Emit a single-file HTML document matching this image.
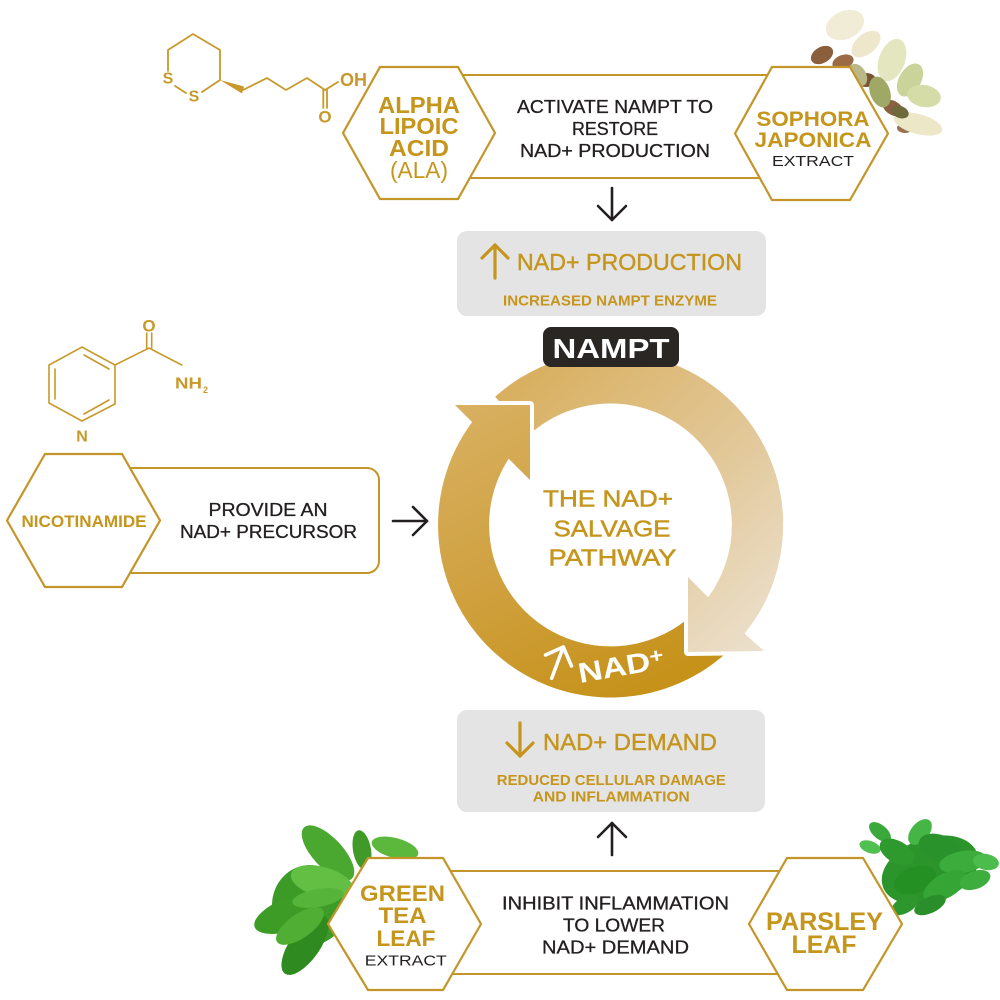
<!DOCTYPE html>
<html><head><meta charset="utf-8"><style>
html,body{margin:0;padding:0;background:#fff;}
svg{display:block;}
text{font-family:"Liberation Sans",Arial,sans-serif;}
</style></head><body>
<svg width="1000" height="1000" viewBox="0 0 1000 1000" xmlns="http://www.w3.org/2000/svg">
<defs>
<linearGradient id="g1" gradientUnits="userSpaceOnUse" x1="470" y1="400" x2="620" y2="700">
<stop offset="0" stop-color="#d8b061"/><stop offset="0.5" stop-color="#d0a140"/><stop offset="1" stop-color="#c6921a"/>
</linearGradient>
<linearGradient id="g2" gradientUnits="userSpaceOnUse" x1="500" y1="380" x2="760" y2="660">
<stop offset="0" stop-color="#d8ae5c"/><stop offset="0.55" stop-color="#e2c899"/><stop offset="1" stop-color="#ece1cf"/>
</linearGradient>
</defs>

<!-- Sophora flower -->
<g>
<ellipse cx="822" cy="55" rx="12" ry="8" transform="rotate(-30 822 55)" fill="#8b5e3c"/>
<ellipse cx="843" cy="62" rx="11" ry="7" transform="rotate(-20 843 62)" fill="#9a6b45"/>
<ellipse cx="866" cy="80" rx="10" ry="7" fill="#7a5535"/>
<ellipse cx="893" cy="108" rx="11" ry="7" transform="rotate(30 893 108)" fill="#8a6040"/>
<ellipse cx="905" cy="128" rx="8" ry="5" fill="#9a7050"/>
<ellipse cx="845" cy="25" rx="20" ry="14" transform="rotate(-25 845 25)" fill="#f1ecd6"/>
<ellipse cx="866" cy="44" rx="17" ry="10" transform="rotate(-40 866 44)" fill="#eee7cb"/>
<ellipse cx="892" cy="60" rx="13" ry="22" transform="rotate(20 892 60)" fill="#e3e6bf"/>
<ellipse cx="910" cy="80" rx="11" ry="18" transform="rotate(30 910 80)" fill="#c9d39a"/>
<ellipse cx="924" cy="96" rx="17" ry="11" transform="rotate(10 924 96)" fill="#d6dca8"/>
<ellipse cx="918" cy="124" rx="25" ry="10" transform="rotate(15 918 124)" fill="#ebe7c7"/>
<ellipse cx="880" cy="92" rx="10" ry="16" transform="rotate(-20 880 92)" fill="#9fa865"/>
<ellipse cx="858" cy="75" rx="8" ry="12" transform="rotate(-30 858 75)" fill="#b9b886"/>
<ellipse cx="900" cy="112" rx="9" ry="6" transform="rotate(20 900 112)" fill="#6f6a3c"/>
</g>

<!-- Green tea leaves -->
<g>
<ellipse cx="310" cy="905" rx="38" ry="40" fill="#3c9a26"/>
<ellipse cx="328" cy="853" rx="35" ry="15" transform="rotate(47 328 853)" fill="#4aa830"/>
<ellipse cx="362" cy="850" rx="20" ry="9" transform="rotate(80 362 850)" fill="#3f9a28"/>
<ellipse cx="395" cy="848" rx="24" ry="10" transform="rotate(15 395 848)" fill="#5bb83c"/>
<ellipse cx="296" cy="912" rx="44" ry="17" transform="rotate(-20 296 912)" fill="#3c9c26"/>
<ellipse cx="322" cy="882" rx="32" ry="15" transform="rotate(15 322 882)" fill="#62bf44"/>
<ellipse cx="305" cy="945" rx="35" ry="15" transform="rotate(-55 305 945)" fill="#2f8a1f"/>
<ellipse cx="300" cy="926" rx="28" ry="12" transform="rotate(-35 300 926)" fill="#4fae33"/>
<ellipse cx="318" cy="898" rx="26" ry="9" transform="rotate(-10 318 898)" fill="#56b43a"/>
</g>

<!-- Parsley -->
<g>
<ellipse cx="930" cy="870" rx="50" ry="32" transform="rotate(-20 930 870)" fill="#2b942b"/>
<ellipse cx="880" cy="832" rx="13" ry="7" transform="rotate(40 880 832)" fill="#3aa83a"/>
<ellipse cx="870" cy="847" rx="11" ry="6" transform="rotate(20 870 847)" fill="#50c050"/>
<ellipse cx="897" cy="852" rx="19" ry="11" transform="rotate(30 897 852)" fill="#2e9a2e"/>
<ellipse cx="920" cy="832" rx="15" ry="9" transform="rotate(-50 920 832)" fill="#45b545"/>
<ellipse cx="940" cy="848" rx="22" ry="13" transform="rotate(20 940 848)" fill="#2a922a"/>
<ellipse cx="963" cy="862" rx="24" ry="11" transform="rotate(-10 963 862)" fill="#3cac3c"/>
<ellipse cx="986" cy="862" rx="13" ry="8" transform="rotate(10 986 862)" fill="#4cbc4c"/>
<ellipse cx="915" cy="880" rx="22" ry="13" transform="rotate(-20 915 880)" fill="#249024"/>
<ellipse cx="945" cy="886" rx="24" ry="12" transform="rotate(-30 945 886)" fill="#35a535"/>
<ellipse cx="905" cy="905" rx="15" ry="8" transform="rotate(-30 905 905)" fill="#2d962d"/>
<ellipse cx="975" cy="880" rx="16" ry="9" transform="rotate(-20 975 880)" fill="#3dad3d"/>
<ellipse cx="930" cy="905" rx="17" ry="8" transform="rotate(-25 930 905)" fill="#2a8f2a"/>
</g>

<!-- Boxes -->
<g fill="#fff" stroke="#c4962a" stroke-width="2">
<rect x="440" y="75" width="350" height="103" rx="12"/>
<rect x="100" y="468" width="279" height="105" rx="12"/>
<rect x="440" y="871" width="350" height="103" rx="12"/>
</g>

<!-- Hexagons -->
<g fill="#fff" stroke="#c4962a" stroke-width="2.2">
<polygon points="343,133 380,67 458,67 495,133 458,199 380,199"/>
<polygon points="735,133.5 772,67 850,67 888,133.5 850,200 772,200"/>
<polygon points="7,520.5 45,454 122,454 160,520.5 122,587 45,587"/>
<polygon points="328,924 368,858 443,858 481,924 443,990 368,990"/>
<polygon points="749,924 787,858 863,858 902,924 863,990 787,990"/>
</g>

<!-- Lipoic acid molecule -->
<g stroke="#c8992a" stroke-width="1.8" fill="none" stroke-linecap="round">
<polyline points="168,71 168,50 193,34 220,50 220,80 202,92"/>
<line x1="175" y1="86" x2="186" y2="93"/>
<polyline points="243,90 267,78 286,90 307,78 325,90 338,82"/>
<line x1="323.3" y1="90" x2="323.3" y2="108"/>
<line x1="327" y1="90" x2="327" y2="108"/>
</g>
<polygon points="220,80 244,86.5 242,93.5" fill="#c8992a"/>
<g fill="#c8992a" font-size="16" font-weight="bold">
<text x="168" y="83.5" text-anchor="middle">S</text>
<text x="194" y="101.7" text-anchor="middle">S</text>
<text x="325" y="122.7" text-anchor="middle" font-size="17">O</text>
<text x="340" y="86" font-size="18" textLength="27" lengthAdjust="spacingAndGlyphs">OH</text>
</g>

<!-- Nicotinamide molecule -->
<g stroke="#c8992a" stroke-width="1.6" fill="none" stroke-linecap="round">
<polyline points="82,421 49,403 49,365 82,347 115,365 115,404 82,421"/>
<line x1="55" y1="369" x2="55" y2="399"/>
<line x1="84" y1="355" x2="109" y2="369"/>
<line x1="84" y1="414" x2="109" y2="400"/>
<polyline points="115,365 149,348 181.7,365"/>
<line x1="146.7" y1="348" x2="146.7" y2="333"/>
<line x1="151.7" y1="348" x2="151.7" y2="333"/>
</g>
<g fill="#c8992a" font-weight="bold">
<text x="149" y="331.7" text-anchor="middle" font-size="17">O</text>
<text x="175" y="388.3" font-size="16" textLength="27" lengthAdjust="spacingAndGlyphs">NH</text>
<text x="203" y="393" font-size="9">2</text>
<text x="82" y="441.7" text-anchor="middle" font-size="16">N</text>
</g>

<!-- Ring -->
<path d="M495.1,396.8 A172.5,172.5 0 0 1 744.6,633.6 L708.2,597.2 A121.5,121.5 0 0 0 529.2,434.7 Z" fill="url(#g2)"/>
<path d="M732.5,647 A172.5,172.5 0 0 1 472.1,422.1 L455,405 L530,405 L530,480 L508.7,458.7 A121.5,121.5 0 0 0 696.4,610.9 Z" fill="url(#g1)" stroke="#fff" stroke-width="8" stroke-linejoin="round" paint-order="stroke"/>
<path d="M783,525 A172.5,172.5 0 0 1 744.6,633.6 L764,651 L688,652 L688,577 L708.2,597.2 A121.5,121.5 0 0 0 732,525 Z" fill="url(#g2)" stroke="#fff" stroke-width="8" stroke-linejoin="round" paint-order="stroke"/>
<path d="M759.9,438.75 A172.5,172.5 0 0 1 759.9,611.25 L715.7,585.75 A121.5,121.5 0 0 0 715.7,464.25 Z" fill="url(#g2)"/>

<!-- NAD+ on ring -->
<g stroke="#fff" stroke-width="3.5" fill="none" stroke-linecap="round" stroke-linejoin="round">
<line x1="551.7" y1="678.3" x2="563.3" y2="647"/>
<polyline points="545.5,655 563.3,647 571.5,666"/>
</g>
<g transform="translate(580,683) rotate(-10)">
<text x="0" y="0" fill="#fff" font-size="28" font-weight="bold" transform="scale(1.2,1)">NAD<tspan font-size="20" dy="-7">+</tspan></text>
</g>

<!-- NAMPT label -->
<rect x="543" y="327" width="136" height="40" rx="8" fill="#2a2624"/>
<text x="611" y="358" text-anchor="middle" fill="#fff" font-size="28" font-weight="bold" textLength="117" lengthAdjust="spacingAndGlyphs">NAMPT</text>

<!-- Center title -->
<g fill="#c5951c" stroke="#c5951c" stroke-width="0.5" font-size="23.5" text-anchor="middle">
<text x="608" y="506.5" textLength="130" lengthAdjust="spacingAndGlyphs">THE NAD+</text>
<text x="612" y="536.5" textLength="117" lengthAdjust="spacingAndGlyphs">SALVAGE</text>
<text x="612.5" y="565.5" textLength="128" lengthAdjust="spacingAndGlyphs">PATHWAY</text>
</g>

<!-- Gray boxes -->
<rect x="457" y="231" width="309" height="85" rx="10" fill="#e4e4e4"/>
<g stroke="#c5951c" stroke-width="3.2" fill="none" stroke-linecap="round" stroke-linejoin="round">
<line x1="495" y1="245" x2="495" y2="278"/>
<polyline points="482,258 495,245 508,258"/>
</g>
<text x="629.5" y="270" text-anchor="middle" fill="#c5951c" stroke="#c5951c" stroke-width="0.4" font-size="23" textLength="225" lengthAdjust="spacingAndGlyphs">NAD+ PRODUCTION</text>
<text x="610" y="305.5" text-anchor="middle" fill="#c5951c" font-size="15" font-weight="bold" textLength="214" lengthAdjust="spacingAndGlyphs">INCREASED NAMPT ENZYME</text>

<rect x="457" y="710" width="308" height="102" rx="10" fill="#e4e4e4"/>
<g stroke="#c5951c" stroke-width="3.2" fill="none" stroke-linecap="round" stroke-linejoin="round">
<line x1="520" y1="723" x2="520" y2="756"/>
<polyline points="507,743 520,756 533,743"/>
</g>
<text x="630" y="750" text-anchor="middle" fill="#c5951c" stroke="#c5951c" stroke-width="0.4" font-size="23" textLength="174" lengthAdjust="spacingAndGlyphs">NAD+ DEMAND</text>
<text x="611.3" y="785" text-anchor="middle" fill="#c5951c" font-size="15" font-weight="bold" textLength="229" lengthAdjust="spacingAndGlyphs">REDUCED CELLULAR DAMAGE</text>
<text x="611.3" y="801.7" text-anchor="middle" fill="#c5951c" font-size="15" font-weight="bold" textLength="157" lengthAdjust="spacingAndGlyphs">AND INFLAMMATION</text>

<!-- Dark arrows -->
<g stroke="#231f20" stroke-width="2.6" fill="none" stroke-linecap="round" stroke-linejoin="round">
<line x1="612" y1="188" x2="612" y2="220"/>
<polyline points="598,206 612,220 626,206"/>
<line x1="393" y1="521" x2="427" y2="521"/>
<polyline points="413,507 427,521 413,535"/>
<line x1="612" y1="823" x2="612" y2="855"/>
<polyline points="598,837 612,823 626,837"/>
</g>

<!-- Hexagon labels -->
<g fill="#c5951c" font-weight="bold" text-anchor="middle">
<text x="419" y="113" font-size="23" textLength="82" lengthAdjust="spacingAndGlyphs">ALPHA</text>
<text x="419" y="134" font-size="23" textLength="79" lengthAdjust="spacingAndGlyphs">LIPOIC</text>
<text x="419" y="156" font-size="23" textLength="60" lengthAdjust="spacingAndGlyphs">ACID</text>
<text x="419" y="178" font-size="23" font-weight="normal" textLength="58" lengthAdjust="spacingAndGlyphs">(ALA)</text>
<text x="813" y="126" font-size="21" textLength="113" lengthAdjust="spacingAndGlyphs">SOPHORA</text>
<text x="813" y="147" font-size="21" textLength="117" lengthAdjust="spacingAndGlyphs">JAPONICA</text>
<text x="84" y="527" font-size="16.5" textLength="125" lengthAdjust="spacingAndGlyphs">NICOTINAMIDE</text>
<text x="402.5" y="901" font-size="22" textLength="85" lengthAdjust="spacingAndGlyphs">GREEN</text>
<text x="402.5" y="923" font-size="22" textLength="48" lengthAdjust="spacingAndGlyphs">TEA</text>
<text x="406" y="946" font-size="22" textLength="59" lengthAdjust="spacingAndGlyphs">LEAF</text>
<text x="824.5" y="930" font-size="25" textLength="117" lengthAdjust="spacingAndGlyphs">PARSLEY</text>
<text x="824" y="953" font-size="25" textLength="65" lengthAdjust="spacingAndGlyphs">LEAF</text>
</g>
<g fill="#231f20" text-anchor="middle" font-size="15">
<text x="813" y="166" textLength="82" lengthAdjust="spacingAndGlyphs">EXTRACT</text>
<text x="405.8" y="965.5" textLength="82" lengthAdjust="spacingAndGlyphs">EXTRACT</text>
</g>

<!-- Box body texts -->
<g fill="#231f20" stroke="#231f20" stroke-width="0.3" text-anchor="middle" font-size="18">
<text x="615" y="113" textLength="196" lengthAdjust="spacingAndGlyphs">ACTIVATE NAMPT TO</text>
<text x="615" y="135" textLength="86" lengthAdjust="spacingAndGlyphs">RESTORE</text>
<text x="615" y="157" textLength="190" lengthAdjust="spacingAndGlyphs">NAD+ PRODUCTION</text>
<text x="268" y="516" textLength="119" lengthAdjust="spacingAndGlyphs">PROVIDE AN</text>
<text x="268.5" y="538" textLength="177" lengthAdjust="spacingAndGlyphs">NAD+ PRECURSOR</text>
<text x="615.5" y="909.3" textLength="227" lengthAdjust="spacingAndGlyphs">INHIBIT INFLAMMATION</text>
<text x="614" y="931.5" textLength="102" lengthAdjust="spacingAndGlyphs">TO LOWER</text>
<text x="615.5" y="953.3" textLength="147" lengthAdjust="spacingAndGlyphs">NAD+ DEMAND</text>
</g>
</svg>
</body></html>
